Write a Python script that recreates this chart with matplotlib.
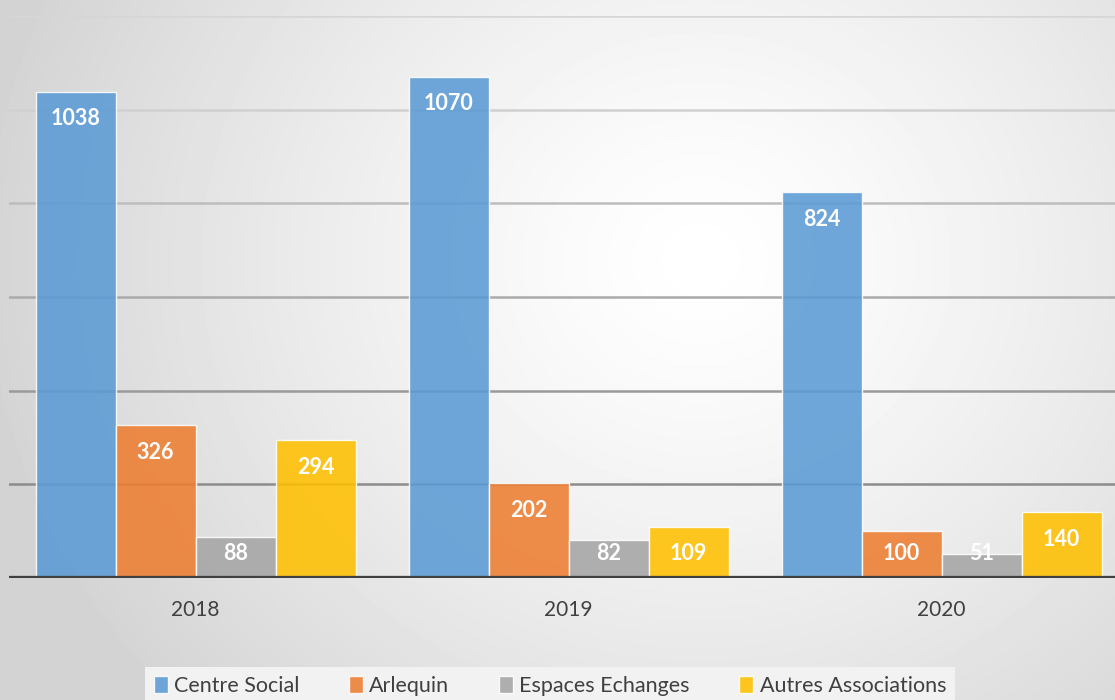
import numpy as np
import matplotlib
matplotlib.use('Agg')
import matplotlib.pyplot as plt

annees = ['2018', '2019', '2020']
series = ['Centre Social', 'Arlequin', 'Espaces Echanges', 'Autres Associations']
centre_social = [1038, 1070, 824]
arlequin = [326, 202, 100]
espaces_echanges = [88, 82, 51]
autres_associations = [294, 109, 140]
couleurs = ['#5B9BD5', '#ED7D31', '#A5A5A5', '#FFC000']

valeurs = [centre_social, arlequin, espaces_echanges, autres_associations]

plt.rcParams['font.family'] = ['Lato', 'DejaVu Sans']

fig = plt.figure(figsize=(11.15, 7), dpi=100)

# fond en dégradé radial
bg = fig.add_axes([0, 0, 1, 1], zorder=-10)
yy, xx = np.mgrid[0:700, 0:1115]
r = np.hypot(xx - 700, (yy - 260) * 1.1) / 720
bg.imshow(1 - 0.17 * np.clip(r, 0, 1) ** 1.3, cmap='gray', vmin=0, vmax=1,
          extent=[0, 1, 0, 1], aspect='auto', interpolation='bilinear')
bg.set_axis_off()

ax = fig.add_axes([9 / 1115, 1 - 578 / 700, 1 - 9 / 1115, (578 - 16) / 700])
ax.patch.set_alpha(0)
ax.set_xlim(-0.5, 2.465)
ax.set_ylim(0, 1200)

# grilles, plus foncées vers le bas
gris = ['#8c8c8c', '#9a9a9a', '#aaaaaa', '#bdbdbd', '#d0d0d0', '#d6d6d6']
for g, c in zip(range(200, 1201, 200), gris):
    ax.axhline(g, color=c, lw=1.8, zorder=1)
ax.axhline(0, color='#404040', lw=3.8, zorder=4)

largeur = 80 / 373
x = np.arange(len(annees))
px_par_unite = 562 / 1200
for i, (nom, vals, col) in enumerate(zip(series, valeurs, couleurs)):
    pos = x + (i - 1.5) * largeur
    ax.bar(pos, vals, largeur, color=col, alpha=0.88, edgecolor=(1, 1, 1, 0.6),
           linewidth=1, label=nom, zorder=2)
    for p, v in zip(pos, vals):
        yl = max(v - 27 / px_par_unite, 24 / px_par_unite)
        ax.text(p, yl, str(v), ha='center', va='center', color='white',
                fontsize=15.5, fontweight='bold', zorder=5)

ax.set_xticks(x)
ax.set_xticklabels(annees, fontsize=15, color='#404040')
ax.tick_params(axis='x', length=0, pad=16)
ax.set_yticks([])
for s in ax.spines.values():
    s.set_visible(False)

leg = fig.legend(loc='upper center', bbox_to_anchor=(550 / 1115, 1 - 667 / 700),
                 ncol=4, frameon=True, fontsize=15.5, handlelength=0.65,
                 handleheight=0.9, handletextpad=0.3, columnspacing=2.3,
                 borderpad=0.4, borderaxespad=0, fancybox=False)
leg.get_frame().set_facecolor('#f2f2f2')
leg.get_frame().set_edgecolor('none')
leg.get_frame().set_alpha(1)
for t in leg.get_texts():
    t.set_color('#404040')

fig.savefig('out.png', dpi=100)
